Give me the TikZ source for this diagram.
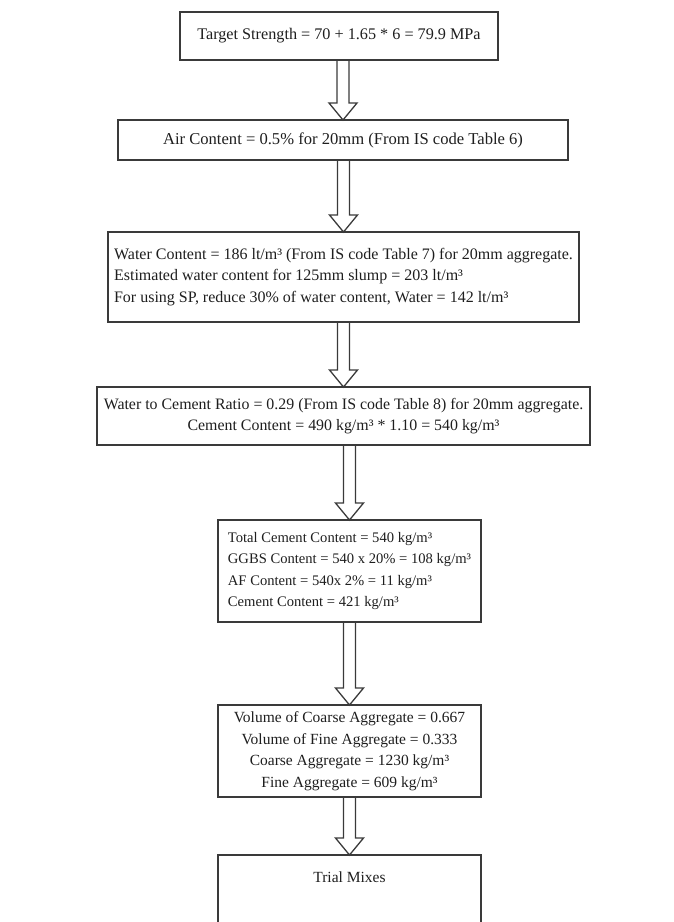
\documentclass[tikz,border=0pt]{standalone}
\usepackage{fontspec}
\setmainfont{Liberation Serif}
\usepackage{xcolor}
\usepackage{tikz}
\usetikzlibrary{positioning, calc}
\definecolor{boxline}{HTML}{3A3A3A}
\definecolor{inktext}{HTML}{1E1E1E}
\tikzset{
  % Flowchart styles
  stepbox/.style={rectangle, draw=boxline, line width=2pt, outer sep=0pt, text=inktext,
    font=\fontsize{#1}{21.5}\selectfont, inner xsep=3pt, inner ysep=3pt},
  stepbox/.default={15.5},
  hollowarrow/.style={draw=boxline, line width=1.3pt, line join=miter},
}

\begin{document}
\begin{tikzpicture}[x=1pt, y=1pt, node distance=60pt]
    \useasboundingbox (0,0) rectangle (674,-922);

    % Target strength
    \node[stepbox=16.2, minimum width=318pt, minimum height=48pt] (strength) at (339,-36)
      {Target Strength = 70 + 1.65 * 6 = 79.9 MPa};

    % Air content
    \node[stepbox=16.6, below=60pt of strength, xshift=4pt, minimum width=450pt, minimum height=40pt] (air)
      {Air Content = 0.5\% for 20mm (From IS code Table 6)};

    % Water content
    \node[stepbox=16, below=72pt of air, xshift=0.5pt, minimum width=471pt, minimum height=90pt, align=left] (water) {
      Water Content = 186 lt/m³ (From IS code Table 7) for 20mm aggregate.\\
      Estimated water content for 125mm slump = 203 lt/m³\\
      For using SP, reduce 30\% of water content, Water = 142 lt/m³
    };

    % Water cement ratio
    \node[stepbox=15.9, below=65pt of water, minimum width=493pt, minimum height=58pt, align=center] (ratio) {
      Water to Cement Ratio = 0.29 (From IS code Table 8) for 20mm aggregate.\\
      Cement Content = 490 kg/m³ * 1.10 = 540 kg/m³
    };

    % Binder contents
    \node[stepbox=14.6, below=75pt of ratio, xshift=6pt, minimum width=263pt, minimum height=102pt, align=left] (binder) {
      Total Cement Content = 540 kg/m³\\
      GGBS Content = 540 x 20\% = 108 kg/m³\\
      AF Content = 540x 2\% = 11 kg/m³\\
      Cement Content = 421 kg/m³
    };

    % Aggregates
    \node[stepbox, below=83pt of binder, minimum width=263pt, minimum height=92pt, align=center] (aggregate) {
      Volume of Coarse Aggregate = 0.667\\
      Volume of Fine Aggregate = 0.333\\
      Coarse Aggregate = 1230 kg/m³\\
      Fine Aggregate = 609 kg/m³
    };

    % Trial mixes (runs past the lower edge)
    \node[stepbox, below=58pt of aggregate, minimum width=263pt, inner ysep=8pt, text height=19pt, text depth=70pt] (trial)
      {Trial Mixes};

    % Hollow arrows
    \foreach \from/\to in {strength/air, air/water, water/ratio, ratio/binder, binder/aggregate, aggregate/trial}
      \draw[hollowarrow] let \p1=(\from.south), \p2=(\to.north) in
        (\x2-6pt,\y1) -- (\x2-6pt,\y2+17pt) -- (\x2-14pt,\y2+17pt) -- (\x2,\y2)
        -- (\x2+14pt,\y2+17pt) -- (\x2+6pt,\y2+17pt) -- (\x2+6pt,\y1);
\end{tikzpicture}
\end{document}
